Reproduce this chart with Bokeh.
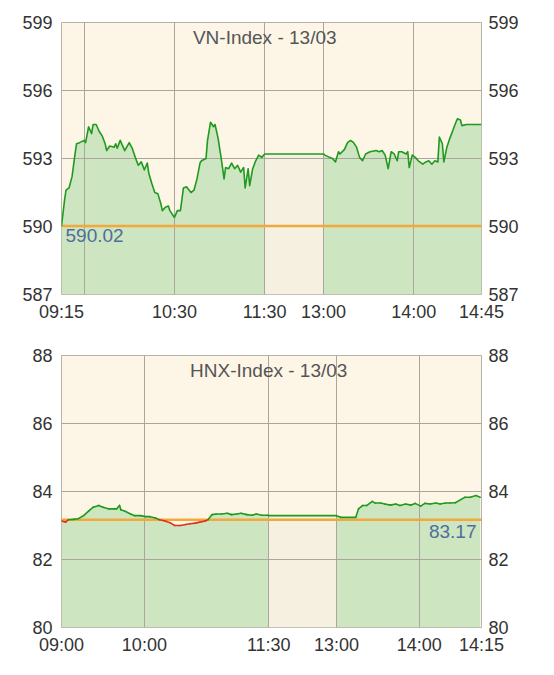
import numpy as np
from bokeh.plotting import figure
from bokeh.layouts import column
from bokeh.models import LinearAxis, FixedTicker, Label, Range1d
from bokeh.embed import file_html
from bokeh.resources import INLINE

# ---------------- data ----------------
vn_title = "VN-Index - 13/03"
vn_ref = 590.02
vn_times = ["09:15", "09:17", "09:18", "09:20", "09:22", "09:24", "09:25", "09:27", "09:30", "09:31",
            "09:33", "09:35", "09:36", "09:38", "09:40", "09:42", "09:44", "09:45", "09:47", "09:50",
            "09:51", "09:52", "09:54", "09:56", "09:57", "10:00", "10:02", "10:04", "10:06", "10:08",
            "10:10", "10:12", "10:13", "10:15", "10:17", "10:19", "10:21", "10:22", "10:24", "10:26",
            "10:27", "10:30", "10:32", "10:34", "10:36", "10:38", "10:41", "10:43", "10:45", "10:47",
            "10:48", "10:51", "10:52", "10:54", "10:56", "10:57", "10:59", "11:01", "11:03", "11:04",
            "11:06", "11:08", "11:10", "11:12", "11:14", "11:16", "11:17", "11:19", "11:20", "11:22",
            "11:24", "11:26", "11:28", "11:30",
            "13:00", "13:01", "13:04", "13:06", "13:08", "13:10", "13:11", "13:14", "13:16", "13:18",
            "13:20", "13:22", "13:24", "13:26", "13:28", "13:31", "13:35", "13:37", "13:39", "13:41",
            "13:43", "13:45", "13:47", "13:49", "13:50", "13:52", "13:55", "13:56", "13:57", "13:59",
            "14:01", "14:03", "14:06", "14:08", "14:10", "14:12", "14:14", "14:16", "14:17", "14:19",
            "14:20", "14:22", "14:24", "14:26", "14:28", "14:29", "14:31", "14:32", "14:35", "14:45"]
vn_values = [590.02, 591.15, 591.6, 591.7, 592.2, 593.2, 593.65, 593.7, 593.8, 593.7,
             594.4, 594.1, 594.5, 594.5, 594.2, 594.0, 593.65, 593.35, 593.55, 593.5,
             593.65, 593.45, 593.8, 593.5, 593.35, 593.7, 593.45, 593.05, 592.7, 592.85,
             592.5, 592.8, 592.35, 591.9, 591.5, 591.45, 591.0, 590.7, 590.85, 590.9,
             590.7, 590.4, 590.7, 590.7, 591.7, 591.75, 591.5, 591.6, 592.1, 592.8,
             592.9, 593.0, 593.8, 594.6, 594.4, 594.5, 593.9, 593.05, 592.1, 592.6,
             592.55, 592.8, 592.55, 592.7, 592.4, 592.6, 591.7, 592.55, 591.8, 592.55,
             592.9, 593.15, 593.05, 593.2,
             593.2, 593.15, 593.05, 593.0, 592.85, 593.3, 593.2, 593.4, 593.7, 593.8,
             593.7, 593.5, 593.05, 592.9, 593.2, 593.3, 593.35, 593.3, 593.35, 593.15,
             592.55, 593.3, 593.2, 592.9, 593.3, 593.3, 593.2, 593.3, 592.6, 593.15,
             593.05, 592.9, 592.75, 592.85, 592.9, 592.75, 592.9, 592.85, 593.95, 593.65,
             592.85, 593.5, 593.9, 594.25, 594.6, 594.75, 594.7, 594.45, 594.5, 594.5]
vn_yticks = [587, 590, 593, 596, 599]
vn_tick_times = ["09:15", "10:30", "11:30", "13:00", "14:00", "14:45"]
vn_tick_labels = ["09:15", "10:30", "11:30", "13:00", "14:00", "14:45"]
vn_grid_times = ["09:30", "10:30", "11:30", "13:00", "14:00"]

hnx_title = "HNX-Index - 13/03"
hnx_ref = 83.17
hnx_times = ["09:00", "09:03", "09:05", "09:09", "09:12", "09:16", "09:20", "09:23", "09:27", "09:30",
             "09:34", "09:38", "09:40", "09:42", "09:43", "09:46", "09:50", "09:53", "09:57", "10:01",
             "10:04", "10:08", "10:11", "10:15", "10:19", "10:22", "10:26", "10:30", "10:33", "10:37",
             "10:40", "10:44", "10:46", "10:49", "10:52", "10:56", "11:00", "11:03", "11:07", "11:10",
             "11:14", "11:18", "11:21", "11:25", "11:29", "11:30",
             "13:00", "13:03", "13:14", "13:16", "13:19", "13:22", "13:26", "13:28", "13:32", "13:35",
             "13:39", "13:43", "13:46", "13:50", "13:54", "13:57", "14:01", "14:04", "14:08", "14:12",
             "14:15", "14:19", "14:22", "14:26", "14:30", "14:33", "14:37", "14:41", "14:44"]
hnx_values = [83.13, 83.10, 83.17, 83.18, 83.20, 83.29, 83.44, 83.54, 83.59, 83.54,
              83.49, 83.49, 83.49, 83.59, 83.46, 83.42, 83.34, 83.29, 83.29, 83.26,
              83.26, 83.22, 83.17, 83.13, 83.07, 83.00, 83.00, 83.03, 83.05, 83.07,
              83.10, 83.13, 83.17, 83.32, 83.34, 83.34, 83.36, 83.32, 83.34, 83.36,
              83.32, 83.30, 83.34, 83.30, 83.30, 83.29,
              83.29, 83.24, 83.24, 83.49, 83.59, 83.59, 83.71, 83.66, 83.66, 83.63,
              83.60, 83.63, 83.59, 83.63, 83.60, 83.65, 83.57, 83.65, 83.63, 83.66,
              83.63, 83.66, 83.66, 83.67, 83.76, 83.83, 83.83, 83.88, 83.83]
hnx_yticks = [80, 82, 84, 86, 88]
hnx_tick_times = ["09:00", "10:00", "11:30", "13:00", "14:00", "14:45"]
hnx_tick_labels = ["09:00", "10:00", "11:30", "13:00", "14:00", "14:15"]
hnx_grid_times = ["10:00", "11:30", "13:00", "14:00"]

# ---------------- style ----------------
FONT = "Liberation Sans"
BG = "#FDF6E7"
LUNCH = "#F5F0DF"
FILL = "#CDE5C0"
GREEN = "#1F9A1F"
RED = "#E0301E"
ORANGE = "#F2A93B"
GRID = "#A9A69C"
TXT = "#333333"


def to_min(t):
    h, m = t.split(":")
    return int(h) * 60 + int(m)


def make_pos(start, lunch_w):
    s, a, b = to_min(start), to_min("11:30"), to_min("13:00")

    def pos(t):
        m = to_min(t)
        if m <= a:
            return m - s
        return (a - s) + lunch_w + (m - b)
    return pos


def make_chart(title, times, values, ref, yticks, tick_times, tick_labels, grid_times,
               start, lunch_w, border_top, label_right, two_color):
    pos = make_pos(start, lunch_w)
    xs = np.array([pos(t) for t in times], dtype=float)
    ys = np.array(values, dtype=float)
    xend = pos(tick_times[-1])
    y0, y1 = yticks[0], yticks[-1]

    p = figure(frame_width=420, frame_height=272, output_backend="svg", toolbar_location=None,
               x_range=Range1d(0, xend), y_range=Range1d(y0, y1),
               min_border_left=61, min_border_right=45, min_border_top=border_top,
               min_border_bottom=33)
    p.background_fill_color = BG
    p.border_fill_color = "white"
    p.outline_line_color = "#B5B2A8"
    p.outline_line_width = 1

    a_idx = times.index("11:30")
    b_idx = times.index("13:00")
    # fills
    r = p.varea(x=xs[:a_idx + 1], y1=y0, y2=ys[:a_idx + 1], fill_color=FILL)
    r.level = "image"
    r = p.varea(x=xs[b_idx:], y1=y0, y2=ys[b_idx:], fill_color=FILL)
    r.level = "image"
    r = p.varea(x=[xs[a_idx], xs[b_idx]], y1=y0, y2=[ys[a_idx], ys[b_idx]], fill_color=LUNCH)
    r.level = "image"

    # reference line
    p.line(x=[0, xend], y=[ref, ref], line_color=ORANGE, line_width=2.5)

    if two_color:
        sx0, sy0, sx1, sy1, cols = [], [], [], [], []
        for i in range(len(xs) - 1):
            xa, ya, xb, yb = xs[i], ys[i], xs[i + 1], ys[i + 1]
            if (ya - ref) * (yb - ref) < 0:
                xc = xa + (ref - ya) * (xb - xa) / (yb - ya)
                parts = [(xa, ya, xc, ref), (xc, ref, xb, yb)]
            else:
                parts = [(xa, ya, xb, yb)]
            for (u0, v0, u1, v1) in parts:
                sx0.append(u0); sy0.append(v0); sx1.append(u1); sy1.append(v1)
                cols.append(RED if (v0 + v1) / 2 < ref else GREEN)
        p.segment(x0=sx0, y0=sy0, x1=sx1, y1=sy1, line_color=cols, line_width=1.6,
                  line_cap="round")
    else:
        p.line(x=xs, y=ys, line_color=GREEN, line_width=1.6, line_join="round")

    # axes
    tpos = [pos(t) for t in tick_times]
    p.xaxis.ticker = FixedTicker(ticks=tpos)
    p.xaxis.major_label_overrides = {float(k): v for k, v in zip(tpos, tick_labels)}
    p.xgrid.ticker = FixedTicker(ticks=[pos(t) for t in grid_times])
    p.yaxis.ticker = FixedTicker(ticks=yticks)
    p.ygrid.ticker = FixedTicker(ticks=yticks)
    p.add_layout(LinearAxis(ticker=FixedTicker(ticks=yticks)), "right")
    for ax in p.axis:
        ax.axis_line_color = None
        ax.major_tick_line_color = None
        ax.minor_tick_line_color = None
        ax.major_tick_out = 0
        ax.major_tick_in = 0
        ax.major_label_text_font = FONT
        ax.major_label_text_font_size = "18px"
        ax.major_label_text_color = TXT
    p.xaxis.major_label_standoff = 7
    p.yaxis[0].major_label_standoff = 9
    p.yaxis[1].major_label_standoff = 7
    for g in (p.xgrid, p.ygrid):
        g.grid_line_color = GRID
        g.grid_line_width = 1

    p.add_layout(Label(x=pos("11:30"), y=y1, y_offset=-4, text=title, text_align="center",
                       text_baseline="top", text_font=FONT, text_font_size="19px",
                       text_color="#555555"))
    if label_right:
        p.add_layout(Label(x=xend, y=ref, x_offset=-5, y_offset=-5, text=f"{ref:.2f}",
                           text_align="right", text_baseline="top", text_font=FONT,
                           text_font_size="19px", text_color="#4F6E9C"))
    else:
        p.add_layout(Label(x=0, y=ref, x_offset=4, y_offset=-3, text=f"{ref:.2f}",
                           text_align="left", text_baseline="top", text_font=FONT,
                           text_font_size="19px", text_color="#4F6E9C"))
    return p


p1 = make_chart(vn_title, vn_times, vn_values, vn_ref, vn_yticks, vn_tick_times, vn_tick_labels,
                vn_grid_times, "09:15", 39, 22, False, False)
p2 = make_chart(hnx_title, hnx_times, hnx_values, hnx_ref, hnx_yticks, hnx_tick_times,
                hnx_tick_labels, hnx_grid_times, "09:00", 49, 28, True, True)

layout = column(p1, p2, spacing=0)
open("out.html", "w").write(file_html(layout, INLINE))
